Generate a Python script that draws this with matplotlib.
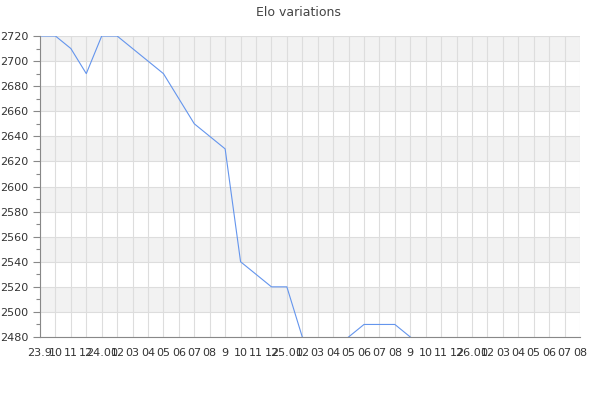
import numpy as np
import matplotlib
matplotlib.use("Agg")
import matplotlib.pyplot as plt

# month labels as shown on the axis
months = ["23.9", "10", "11", "12",
          "24.01", "02", "03", "04", "05", "06", "07", "08", "9", "10", "11", "12",
          "25.01", "02", "03", "04", "05", "06", "07", "08", "9", "10", "11", "12",
          "26.01", "02", "03", "04", "05", "06", "07", "08"]

# values below 2480 are cut off in the original chart
elo = [2720, 2720, 2710, 2690, 2720, 2720, 2710, 2700, 2690, 2670, 2650, 2640,
       2630, 2540, 2530, 2520, 2520, 2480, 2470, 2470, 2480, 2490, 2490, 2490,
       2480, 2470, 2470, 2470, 2470, 2470, 2470, 2470, 2470, 2470, 2470, 2470]

y_min, y_max = 2480, 2720

fig = plt.figure(figsize=(6, 4), dpi=100)
ax = fig.add_axes([40/600, 63/400, 540/600, 301/400])

x = np.arange(len(months))

# alternating bands
for lo in range(y_min, y_max, 40):
    ax.axhspan(lo + 20, lo + 40, color="#f2f2f2", zorder=0, lw=0)

ax.plot(x, elo, color="#6495ed", linewidth=0.8, zorder=2)

ax.set_xlim(0, len(months) - 1)
ax.set_ylim(y_min, y_max)
ax.set_xticks(x)
ax.set_xticklabels(months)
ax.set_yticks(np.arange(y_min, y_max + 1, 20))
ax.set_yticks(np.arange(y_min, y_max + 1, 10), minor=True)

ax.grid(True, color="#dddddd", linewidth=0.8, zorder=1)
ax.set_axisbelow(True)

for s in ["top", "right"]:
    ax.spines[s].set_visible(False)
for s in ["left", "bottom"]:
    ax.spines[s].set_color("#888888")
    ax.spines[s].set_linewidth(0.8)
    ax.spines[s].set_zorder(3)

ax.tick_params(axis="x", length=0, labelsize=8, colors="#333333", pad=8)
ax.tick_params(axis="y", which="major", length=5, labelsize=8, colors="#888888",
               labelcolor="#333333", width=0.8)
ax.tick_params(axis="y", which="minor", length=3, colors="#888888", width=0.8)

fig.text(298/600, 1 - 12/400, "Elo variations", ha="center", va="center",
         fontsize=9, color="#444444")

fig.savefig("out.png", dpi=100)
